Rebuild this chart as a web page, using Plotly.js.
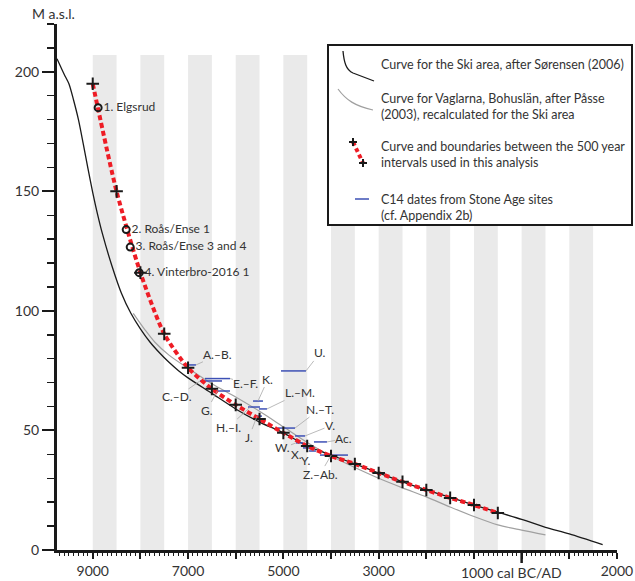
<!DOCTYPE html>
<html><head><meta charset="utf-8">
<script src="https://cdn.plot.ly/plotly-3.0.1.min.js"></script>
<style>html,body{margin:0;padding:0;background:#fff}#chart{width:635px;height:581px}</style>
</head><body><div id="chart"></div>
<script>
// ---------- DATA (years: negative = BC, positive = AD) ----------
const sorensenYear = [-9750,-9600,-9500,-9400,-9300,-9200,-9100,-9000,-8900,-8800,-8600,-8400,-8200,-8000,-7800,-7600,-7400,-7200,-7000,-6500,-6000,-5500,-5000,-4500,-4000,-3500,-3000,-2500,-2000,-1500,-1000,-500,0,500,1000,1700];
const sorensenElev = [205.5,199,195,188,180,170,159.5,149.5,140.5,132.5,119,107.5,99,92.5,87,82.5,78.5,75,72,65.5,59,53.5,49,43.5,39.7,36,32.2,28.5,25.1,22,18.8,15.8,12.8,9.5,6.7,2.2];

const passeYear = [-8150,-7900,-7700,-7400,-7000,-6500,-6000,-5500,-5000,-4500,-4000,-3500,-3000,-2500,-2000,-1500,-1000,-500,0,500];
const passeElev = [99,92,87,81.5,76,69.5,64,58,51.5,45,39.3,34.5,30,26,22.2,18,14,10.5,8.3,6.3];

const boundaryYear = [-9000,-8500,-8000,-7500,-7000,-6500,-6000,-5500,-5000,-4500,-4000,-3500,-3000,-2500,-2000,-1500,-1000,-500];
const boundaryElev = [195,150,116,90.4,76.2,67.4,60.7,54.8,49,43.5,39.3,36,32.2,28.5,25.1,21.8,18.8,15.5];

const siteName = ["1. Elgsrud","2. Roås/Ense 1","3. Roås/Ense 3 and 4","4. Vinterbro-2016 1"];
const siteYear = [-8887,-8298,-8214,-8025];
const siteElev = [185,134,126.7,116];

const c14Label = ["A.–B.","C.–D.","E.–F.","G.","H.–I.","K.","L.–M.","J.","U.","N.–T.","V.","W.","X.","Y.","Ac.","Z.–Ab."];
const c14Start = [-7022,-6750,-6645,-6456,-5742,-5637,-5512,-5596,-5050,-5113,-4756,-4735,-4589,-4463,-4358,-4232];
const c14End   = [-6834,-6288,-6120,-6120,-5491,-5428,-5344,-5449,-4525,-4756,-4546,-4588,-4463,-4316,-4085,-3644];
const c14Elev  = [77.4,70.7,71.7,66.5,59.8,62.3,59.0,56.0,74.9,51.0,47.7,44.8,42.7,41.4,45.2,39.7];

const intervalStart = [-9000,-8000,-7000,-6000,-5000,-4000,-3000,-2000,-1000,0,1000];
const intervalLength = 500;
const bandTop = 207;

const xTickVals = [-9000,-8000,-7000,-6000,-5000,-4000,-3000,-2000,-1000,0,1000,2000];
const xTickText = ["9000","","7000","","5000","","3000","","","","","2000"];
const yTickVals = [0,50,100,150,200];

// ---------- LAYOUT HELPERS ----------
const W=635,H=581,ML=57,MR=18,MT=24,MB=31;
const PW=W-ML-MR, PH=H-MT-MB;
const fx = x => (x-ML)/PW;
const fy = y => (H-MB-y)/PH;
const pathPx = (cmds) => cmds.map(c => c[0] + ' ' + c.slice(1).map((v,i)=> i%2===0 ? fx(v).toFixed(5) : fy(v).toFixed(5)).join(' ')).join(' ');
const FONT = 'Lato, "Open Sans", sans-serif';
const TXT = '#333333';
const RED = '#ee1c25', BLUE = '#3d50b5';

// ---------- TRACES ----------
const c14x=[], c14y=[];
for (let i=0;i<c14Start.length;i++){ c14x.push(c14Start[i],c14End[i],null); c14y.push(c14Elev[i],c14Elev[i],null); }

const traces = [
  {x:passeYear,y:passeElev,mode:'lines',line:{color:'#a0a0a0',width:1.2,shape:'spline',smoothing:0.8},hoverinfo:'skip'},
  {x:sorensenYear,y:sorensenElev,mode:'lines',line:{color:'#1a1a1a',width:1.3,shape:'spline',smoothing:0.8},hoverinfo:'skip'},
  {x:c14x,y:c14y,mode:'lines',line:{color:BLUE,width:1.5},hoverinfo:'skip'},
  {x:boundaryYear,y:boundaryElev,mode:'lines',line:{color:RED,width:4,dash:'5px,3px',shape:'spline',smoothing:0.7},hoverinfo:'skip'},
  {x:boundaryYear,y:boundaryElev,mode:'markers',marker:{symbol:'cross-thin',size:9,color:'#1a1a1a',line:{width:2,color:'#1a1a1a'}},hoverinfo:'skip'},
  {x:siteYear,y:siteElev,text:siteName,mode:'markers+text',textposition:'middle right',
   textfont:{family:FONT,size:12,color:TXT},
   marker:{symbol:'circle-open',size:7,color:'#1a1a1a',line:{width:2,color:'#1a1a1a'}},hoverinfo:'skip',cliponaxis:false}
];

// ---------- SHAPES ----------
const shapes = [];
intervalStart.forEach(s => shapes.push({type:'rect',xref:'x',yref:'y',x0:s,x1:s+intervalLength,y0:0,y1:bandTop,fillcolor:'#eaeaea',line:{width:0},layer:'below'}));
// longer BC/AD tick
shapes.push({type:'line',xref:'x',yref:'paper',x0:0,x1:0,y0:0,y1:-13/PH,line:{color:'#1a1a1a',width:2.5}});
// legend box
shapes.push({type:'rect',xref:'paper',yref:'paper',x0:fx(328),x1:fx(632),y0:fy(225),y1:fy(45),fillcolor:'#ffffff',line:{color:'#1a1a1a',width:2},layer:'above'});
shapes.push({type:'path',xref:'paper',yref:'paper',path:pathPx([['M',343,51],['C',344,62,346,70,353,73],['L',374,81]]),line:{color:'#1a1a1a',width:1.3}});
shapes.push({type:'path',xref:'paper',yref:'paper',path:pathPx([['M',338,89],['C',346,100,355,106,373,110]]),line:{color:'#a0a0a0',width:1.2}});
shapes.push({type:'line',xref:'paper',yref:'paper',x0:fx(353),y0:fy(142),x1:fx(363),y1:fy(163),line:{color:RED,width:4,dash:'4px,3px'}});
[[353,142],[363,163]].forEach(p=>{
  shapes.push({type:'path',xref:'paper',yref:'paper',path:pathPx([['M',p[0]-4,p[1]],['L',p[0]+4,p[1]],['M',p[0],p[1]-4],['L',p[0],p[1]+4]]),line:{color:'#1a1a1a',width:2}});
});
shapes.push({type:'line',xref:'paper',yref:'paper',x0:fx(355),y0:fy(199),x1:fx(369),y1:fy(199),line:{color:BLUE,width:1.5}});

// ---------- ANNOTATIONS ----------
const labelPlacement = [ // [fraction along date line, dx px, dy px]
  [1,22,-10],[0,-23,16],[1,16,4.5],[0.2,-10,19],[0.2,-22,20],[0.5,10,-22],[1,33,-16],[0.3,-8,21],
  [1,14,-18],[1,25,-19],[1,25,-10],[0,-13,5],[0,-6,7],[0,-3,9],[1,17,-3],[0.4,-11,19]
];
const annotations = [];
c14Label.forEach((t,i)=>{
  const p = labelPlacement[i];
  annotations.push({x:c14Start[i]+p[0]*(c14End[i]-c14Start[i]),y:c14Elev[i],xref:'x',yref:'y',text:t,
    showarrow:true,arrowhead:0,arrowwidth:0.8,arrowcolor:'#a8a8a8',ax:p[1],ay:p[2],standoff:0,startstandoff:0,borderpad:0,
    font:{family:FONT,size:12,color:TXT}});
});
const legendTexts = [
  ['Curve for the Ski area, after Sørensen (2006)',65],
  ['Curve for Vaglarna, Bohuslän, after Påsse<br>(2003), recalculated for the Ski area',106],
  ['Curve and boundaries between the 500 year<br>intervals used in this analysis',154],
  ['C14 dates from Stone Age sites<br>(cf. Appendix 2b)',207]
];
legendTexts.forEach(l=>annotations.push({xref:'paper',yref:'paper',x:fx(379),y:fy(l[1]),xanchor:'left',yanchor:'middle',align:'left',
  text:l[0],showarrow:false,font:{family:FONT,size:12.5,color:TXT}}));
annotations.push({xref:'paper',yref:'paper',x:fx(53),y:fy(14),xanchor:'center',yanchor:'middle',text:'M a.s.l.',showarrow:false,font:{family:FONT,size:14,color:TXT}});
annotations.push({xref:'x',yref:'paper',x:-1000,xshift:-15,y:fy(572),xanchor:'left',yanchor:'middle',text:'1000 cal BC/AD',showarrow:false,font:{family:FONT,size:14,color:TXT}});

const layout = {
  width:W,height:H,margin:{l:ML,r:MR,t:MT,b:MB,pad:0},
  paper_bgcolor:'#fff',plot_bgcolor:'#fff',showlegend:false,
  font:{family:FONT,size:14,color:TXT},
  xaxis:{range:[-9750,2001],showgrid:false,zeroline:false,showline:true,linewidth:3,linecolor:'#1a1a1a',
    tickmode:'array',tickvals:xTickVals,ticktext:xTickText,ticks:'outside',ticklen:6,tickwidth:2,tickcolor:'#1a1a1a',
    tickfont:{family:FONT,size:14,color:TXT},
    minor:{dtick:100,tick0:0,ticks:'outside',ticklen:3,tickwidth:1,tickcolor:'#1a1a1a',showgrid:false}},
  yaxis:{range:[0,220],showgrid:false,zeroline:false,showline:true,linewidth:3,linecolor:'#1a1a1a',
    tickmode:'array',tickvals:yTickVals,ticks:'outside',ticklen:12,tickwidth:2,tickcolor:'#1a1a1a',
    tickfont:{family:FONT,size:14,color:TXT},
    minor:{dtick:10,tick0:0,ticks:'outside',ticklen:7,tickwidth:1.5,tickcolor:'#1a1a1a',showgrid:false}},
  shapes:shapes,annotations:annotations
};
Plotly.newPlot('chart',traces,layout,{displayModeBar:false,staticPlot:true});
</script></body></html>
